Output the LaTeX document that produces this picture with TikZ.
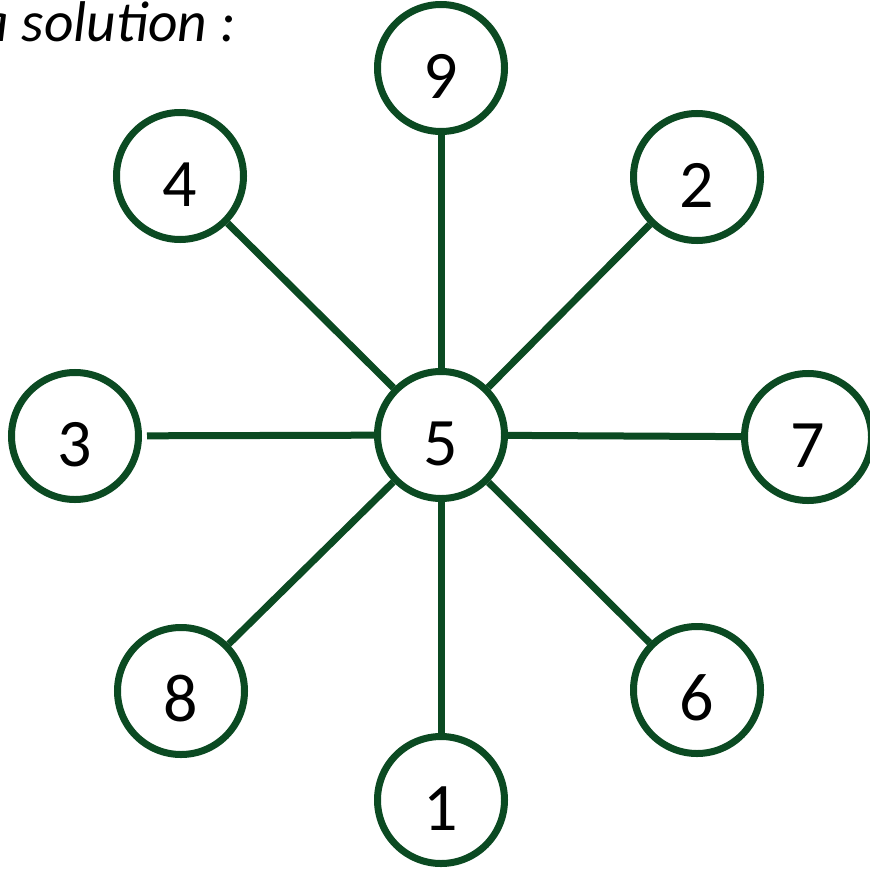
\documentclass[tikz,border=0pt]{standalone}
\usepackage{fontspec}
\setmainfont{Carlito}
\usepackage{tikz}
\usetikzlibrary{positioning}
\definecolor{darkgreen}{HTML}{0B4A22}

\begin{document}
\begin{tikzpicture}[x=0.03cm,y=-0.03cm,line width=0.21cm,draw=darkgreen,
		semithick]
		\tikzstyle{ball}=[circle,draw=darkgreen,line width=0.21cm,fill=white,
		minimum size=3.81cm,inner sep=0pt,text=black,text height=1.8cm,text depth=0pt,
		font=\fontsize{58}{60}\selectfont]
		\useasboundingbox (0,0) rectangle (870,870);
		
		\node[anchor=base east,font=\fontsize{49}{52}\selectfont\itshape] (T) at (240,42) {a solution :};
		
		\node[ball] (N5) at (441,435) {5};
		\node[ball] (N9) at (441,68)  {9};
		\node[ball] (N4) at (180,176) {4};
		\node[ball] (N2) at (697,177) {2};
		\node[ball] (N3) at (75,436)  {3};
		\node[ball] (N7) at (808,437) {7};
		\node[ball] (N8) at (181,691) {8};
		\node[ball] (N6) at (697,690) {6};
		\node[ball] (N1) at (441,800) {1};
		
		\path[draw=darkgreen,line width=0.21cm] (N5) edge (N9);
		\path[draw=darkgreen,line width=0.21cm] (N5) edge (N4);
		\path[draw=darkgreen,line width=0.21cm] (N5) edge (N2);
		\path[draw=darkgreen,line width=0.21cm] (N5) edge[shorten >=5*0.03cm] (N3);
		\path[draw=darkgreen,line width=0.21cm] (N5) edge (N7);
		\path[draw=darkgreen,line width=0.21cm] (N5) edge (N8);
		\path[draw=darkgreen,line width=0.21cm] (N5) edge (N6);
		\path[draw=darkgreen,line width=0.21cm] (N5) edge (N1);
		\end{tikzpicture}
\end{document}
